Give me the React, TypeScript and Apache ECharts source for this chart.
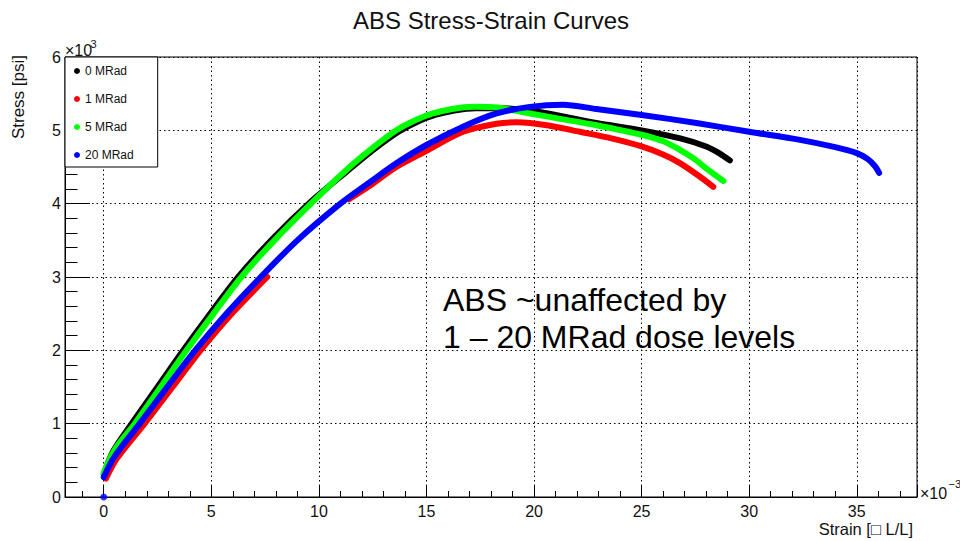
import React, { useEffect, useRef } from 'react';
import * as echarts from 'echarts';

// Strain [x10^-3], Stress [x10^3 psi]
const curve0MRad: [number, number][] = [
  [0, 0.31], [0.45, 0.63], [1.3, 1.0], [2.5, 1.5], [3.7, 2.0], [4.85, 2.46], [6.25, 3.0],
  [7.85, 3.52], [9.6, 4.02], [11.3, 4.44], [12.6, 4.75], [13.7, 4.98], [14.6, 5.12],
  [15.4, 5.21], [16.3, 5.27], [17.3, 5.30], [18.5, 5.30], [19.8, 5.27], [21.35, 5.19],
  [22.9, 5.10], [25.0, 5.00], [26.8, 4.89], [28.0, 4.78], [28.6, 4.69], [29.1, 4.59],
];
const curve1MRad: [number, number][] = [
  [0.1, 0.25], [0.6, 0.52], [1.9, 1.0], [3.2, 1.5], [4.5, 2.0], [5.95, 2.5], [7.6, 3.0],
  [9.0, NaN],
  [11.4, 4.06], [12.4, 4.25], [13.6, 4.5], [15.0, 4.72], [16.7, 4.98], [18.26, 5.09],
  [19.2, 5.11], [20.6, 5.07], [22.13, 4.98], [23.6, 4.89], [25.0, 4.78], [26.0, 4.67],
  [26.8, 4.55], [27.7, 4.37], [28.33, 4.23],
];
const curve5MRad: [number, number][] = [
  [0, 0.33], [0.5, 0.64], [1.44, 1.0], [2.65, 1.5], [3.85, 2.0], [5.0, 2.46], [6.4, 3.0],
  [8.0, 3.52], [9.7, 4.02], [11.2, 4.44], [12.5, 4.76], [13.6, 5.0], [14.5, 5.14],
  [15.3, 5.23], [16.2, 5.29], [17.2, 5.32], [18.3, 5.31], [19.8, 5.23], [21.35, 5.15],
  [22.9, 5.07], [25.0, 4.94], [26.0, 4.85], [26.8, 4.73], [27.5, 4.6], [28.0, 4.48],
  [28.8, 4.31],
];
const curve20MRad: [number, number][] = [
  [0, 0.27], [0.5, 0.55], [1.67, 1.0], [2.95, 1.5], [4.25, 2.0], [5.7, 2.5], [7.3, 3.0],
  [9.0, 3.5], [11.0, 4.0], [12.4, 4.3], [13.6, 4.55], [15.0, 4.8], [16.7, 5.05],
  [18.26, 5.23], [19.8, 5.32], [21.35, 5.35], [22.9, 5.29], [25.0, 5.21], [27.55, 5.10],
  [30.0, 4.98], [32.36, 4.87], [34.0, 4.77], [35.0, 4.69], [35.5, 4.61], [35.85, 4.51],
  [36.04, 4.42],
];
const originPoint20MRad: [number, number][] = [[0, 0]];

const seriesNames = ['0 MRad', '1 MRad', '5 MRad', '20 MRad'];
const seriesData = [curve0MRad, curve1MRad, curve5MRad, curve20MRad];
const seriesColors = ['#000000', '#ff0000', '#00ff00', '#0000ff'];

const titleText = 'ABS Stress-Strain Curves';
const yAxisTitle = 'Stress [psi]';
const xAxisTitle = 'Strain [\u25A1 L/L]';
const noteLines = ['ABS ~unaffected by', '1 \u2013 20 MRad dose levels'];

const FONT = '"Liberation Sans", Arial, Helvetica, sans-serif';

export default function App() {
  const ref = useRef<HTMLDivElement>(null);
  useEffect(() => {
    if (!ref.current) return;
    const chart = echarts.init(ref.current, undefined, { renderer: 'svg' });
    const lineSeries = seriesData.map((d, i) => ({
      type: 'line',
      name: seriesNames[i],
      data: d,
      showSymbol: false,
      smooth: 0.3,
      connectNulls: false,
      color: seriesColors[i],
      lineStyle: { color: seriesColors[i], width: 6, cap: 'round', join: 'round' },
      z: 2 + i,
    }));
    chart.setOption({
      animation: false,
      textStyle: { fontFamily: FONT },
      grid: {
        left: 65, right: 43, top: 57, bottom: 44,
        show: true, borderColor: '#000', borderWidth: 1, backgroundColor: 'transparent',
      },
      legend: {
        data: seriesNames,
        orient: 'vertical',
        left: 65, top: 57,
        padding: [7, 24, 5, 9],
        itemGap: 14,
        itemWidth: 6, itemHeight: 6,
        itemTextGap: 8,
        icon: 'circle',
        borderColor: '#000', borderWidth: 1,
        backgroundColor: '#fff',
        borderRadius: 0,
        textStyle: { fontSize: 12, color: '#111', lineHeight: 14, fontFamily: FONT },
        selectedMode: false,
      },
      xAxis: {
        type: 'value', min: -1.8, max: 37.8, splitNumber: 8,
        axisLine: { show: true, onZero: false, lineStyle: { color: '#000', width: 1 } },
        axisTick: { show: true, inside: true, length: 12, lineStyle: { color: '#000' } },
        minorTick: { show: true, splitNumber: 5, length: 6, lineStyle: { color: '#000' } },
        splitLine: { show: true, lineStyle: { color: '#000', type: [1.5, 3], width: 1 } },
        axisLabel: {
          showMinLabel: false, showMaxLabel: false, fontSize: 16, color: '#111', margin: 6,
          fontFamily: FONT,
        },
      },
      yAxis: {
        type: 'value', min: 0, max: 6, interval: 1,
        axisLine: { show: true, onZero: false, lineStyle: { color: '#000', width: 1 } },
        axisTick: { show: true, inside: true, length: 25, lineStyle: { color: '#000' } },
        minorTick: { show: true, splitNumber: 5, length: 12.5, lineStyle: { color: '#000' } },
        splitLine: { show: true, lineStyle: { color: '#000', type: [1.5, 3], width: 1 } },
        axisLabel: { fontSize: 16, color: '#111', margin: 4, fontFamily: FONT },
      },
      series: [
        ...lineSeries,
        {
          type: 'scatter',
          name: 'origin',
          data: originPoint20MRad,
          symbol: 'circle',
          symbolSize: 7,
          itemStyle: { color: '#0000ff' },
          z: 6,
        },
      ],
      graphic: [
        {
          type: 'text', x: 491, y: 20,
          style: { text: titleText, font: `24px ${FONT}`, fill: '#111', align: 'center', verticalAlign: 'middle' },
        },
        {
          type: 'text', x: 65, y: 50,
          style: { text: '\u00D710', font: `16px ${FONT}`, fill: '#111', align: 'left', verticalAlign: 'middle' },
        },
        {
          type: 'text', x: 90.5, y: 44,
          style: { text: '3', font: `11px ${FONT}`, fill: '#111', align: 'left', verticalAlign: 'middle' },
        },
        {
          type: 'text', x: 920, y: 493,
          style: { text: '\u00D710', font: `16px ${FONT}`, fill: '#111', align: 'left', verticalAlign: 'middle' },
        },
        {
          type: 'text', x: 948.5, y: 484,
          style: { text: '\u22123', font: `11px ${FONT}`, fill: '#111', align: 'left', verticalAlign: 'middle' },
        },
        {
          type: 'text', x: 18, y: 55, rotation: Math.PI / 2,
          style: { text: yAxisTitle, font: `17px ${FONT}`, fill: '#111', align: 'right', verticalAlign: 'middle' },
        },
        {
          type: 'text', x: 913, y: 529,
          style: { text: xAxisTitle, font: `16.5px ${FONT}`, fill: '#111', align: 'right', verticalAlign: 'middle' },
        },
        {
          type: 'text', x: 443, y: 300,
          style: { text: noteLines[0], font: `32px ${FONT}`, fill: '#000', align: 'left', verticalAlign: 'middle' },
        },
        {
          type: 'text', x: 443, y: 337,
          style: { text: noteLines[1], font: `32px ${FONT}`, fill: '#000', align: 'left', verticalAlign: 'middle' },
        },
      ],
    });
    return () => chart.dispose();
  }, []);
  return (
    <div
      ref={ref}
      style={{ position: 'fixed', left: 0, top: 0, width: 960, height: 541, background: '#fff' }}
    />
  );
}
